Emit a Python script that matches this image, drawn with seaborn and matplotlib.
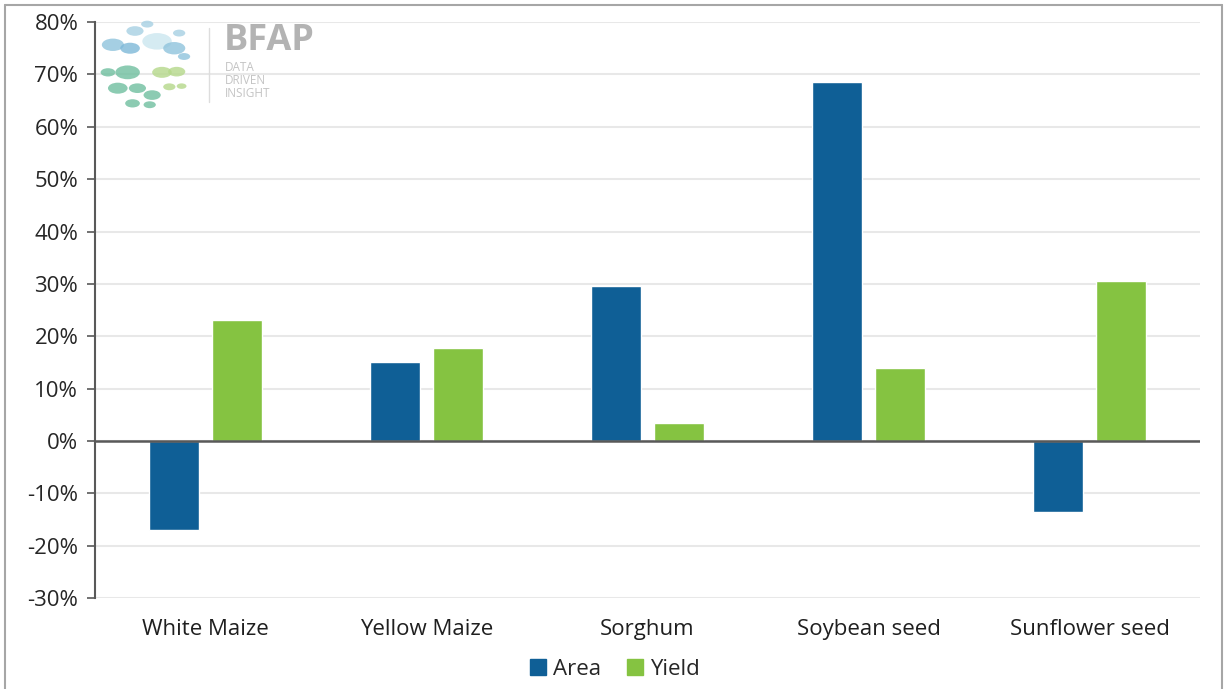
import numpy as np
import pandas as pd
import matplotlib.pyplot as plt
from matplotlib.lines import Line2D
from matplotlib.patches import Circle
import seaborn as sns

# Chart data (change vs. base)
CROPS = ["White Maize", "Yellow Maize", "Sorghum", "Soybean seed", "Sunflower seed"]
AREA = [-0.17, 0.15, 0.295, 0.685, -0.135]
YIELD = [0.231, 0.177, 0.035, 0.14, 0.306]
SERIES = ["Area", "Yield"]
COLORS = ["#0F5F96", "#85C341"]
Y_TICKS = [-0.3, -0.2, -0.1, 0.0, 0.1, 0.2, 0.3, 0.4, 0.5, 0.6, 0.7, 0.8]

df = pd.DataFrame({
    "crop": CROPS * 2,
    "series": ["Area"] * len(CROPS) + ["Yield"] * len(CROPS),
    "value": AREA + YIELD,
})

sns.set_style("white")
plt.rcParams['font.family'] = ['Open Sans', 'DejaVu Sans']

fig = plt.figure(figsize=(12.27, 6.89), dpi=100)
ax = fig.add_axes([0.0774, 0.132, 0.9006, 0.836])

sns.barplot(data=df, x="crop", y="value", hue="series", hue_order=SERIES,
            palette=COLORS, width=0.57, gap=0.22, saturation=1,
            legend=False, ax=ax, zorder=3)

ax.set_ylim(-0.3, 0.8)
ax.set_xlim(-0.5, len(CROPS) - 0.5)
ax.set_yticks(Y_TICKS)
ax.set_yticklabels([f"{int(round(t * 100))}%" for t in Y_TICKS], fontsize=16, color="#262626")
ax.tick_params(axis="y", direction="out", length=6, width=1.2, color="#595959", pad=6, left=True)
ax.tick_params(axis="x", length=0, labelsize=16, labelcolor="#1f1f1f", pad=15)
ax.set_xlabel("")
ax.set_ylabel("")

ax.yaxis.grid(True, color="#e8e8e8", linewidth=1.5, zorder=0)
ax.set_axisbelow(True)
for s in ["top", "right", "bottom"]:
    ax.spines[s].set_visible(False)
ax.spines["left"].set_color("#595959")
ax.spines["left"].set_linewidth(1.5)
ax.axhline(0, color="#595959", linewidth=1.8, zorder=4)

# legend at bottom
handles = [Line2D([0], [0], marker="s", linestyle="", markersize=11,
                  markerfacecolor=c, markeredgecolor=c) for c in COLORS]
fig.legend(handles, SERIES, loc="center", bbox_to_anchor=(0.5, 0.028), ncol=2,
           frameon=False, fontsize=16, handletextpad=0.2, columnspacing=1.0,
           handlelength=1.0)

# BFAP watermark logo
fig.text(0.182, 0.94, "BFAP", fontsize=26, color="#b3b3b3", fontweight="bold", va="center")
fig.text(0.183, 0.883, "DATA\nDRIVEN\nINSIGHT", fontsize=8.5, color="#c4c4c4",
         va="center", linespacing=1.0)
fig.add_artist(Line2D([0.170, 0.170], [0.852, 0.96], color="#dddddd", linewidth=1,
                      transform=fig.transFigure))
dots = [(0.092, 0.935, 0.009, "#8fc3dc"), (0.106, 0.93, 0.008, "#7db8d8"),
        (0.110, 0.955, 0.007, "#a6d0e3"), (0.128, 0.94, 0.012, "#cbe6ef"),
        (0.142, 0.93, 0.009, "#8fc3dc"), (0.120, 0.965, 0.005, "#a6d0e3"),
        (0.146, 0.952, 0.005, "#a6d0e3"), (0.150, 0.918, 0.005, "#8fc3dc"),
        (0.088, 0.895, 0.006, "#6fbf9f"), (0.104, 0.895, 0.010, "#6fbf9f"),
        (0.096, 0.872, 0.008, "#6fbf9f"), (0.112, 0.872, 0.007, "#6fbf9f"),
        (0.132, 0.895, 0.008, "#b5d88a"), (0.144, 0.896, 0.007, "#b5d88a"),
        (0.124, 0.862, 0.007, "#6fbf9f"), (0.138, 0.874, 0.005, "#b5d88a"),
        (0.108, 0.850, 0.006, "#6fbf9f"), (0.122, 0.848, 0.005, "#6fbf9f"),
        (0.148, 0.875, 0.004, "#b5d88a")]
for x, y, r, c in dots:
    fig.add_artist(Circle((x, y), r, transform=fig.transFigure, color=c, alpha=0.8,
                          linewidth=0))

# grey frame round the figure
frame_kw = dict(color="#a6a6a6", linewidth=1.5, transform=fig.transFigure)
fig.add_artist(Line2D([0.004, 0.996], [0.993, 0.993], **frame_kw))
fig.add_artist(Line2D([0.004, 0.004], [0.0, 0.993], **frame_kw))
fig.add_artist(Line2D([0.996, 0.996], [0.0, 0.993], **frame_kw))

fig.savefig("out.png", dpi=100)
